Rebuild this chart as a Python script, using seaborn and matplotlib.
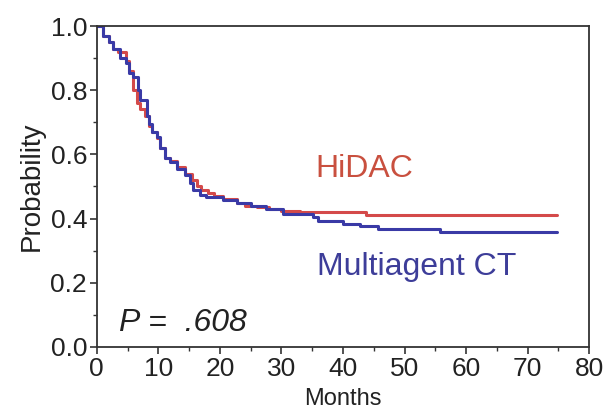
import numpy as np
import pandas as pd
import matplotlib
matplotlib.use("Agg")
import matplotlib.pyplot as plt
import seaborn as sns
from matplotlib.ticker import MultipleLocator

# Kaplan-Meier estimates (months, probability)
hidac_months = [0, 1.0, 2.0, 2.7, 3.5, 4.8, 5.3, 5.8, 6.5, 7.0, 7.8, 8.4, 8.9,
                9.7, 10.2, 11.1, 11.9, 13.0, 14.3, 15.4, 16.2, 17.0, 18.0, 19.0,
                20.5, 22.7, 24.0, 26.0, 28.0, 30.0, 33.0, 43.8, 74.7]
hidac_prob = [1.0, 0.97, 0.95, 0.93, 0.92, 0.89, 0.86, 0.80, 0.76, 0.74, 0.72,
              0.69, 0.67, 0.65, 0.62, 0.59, 0.58, 0.56, 0.54, 0.52, 0.50, 0.49,
              0.48, 0.47, 0.46, 0.45, 0.44, 0.435, 0.43, 0.425, 0.42, 0.41, 0.41]

multi_months = [0, 1.0, 2.0, 2.7, 3.8, 4.8, 5.2, 5.8, 6.7, 7.0, 8.1, 8.4, 8.9,
                9.7, 10.2, 11.1, 11.9, 13.0, 14.3, 15.1, 15.7, 16.8, 17.8, 20.5,
                22.7, 25.0, 27.5, 30.3, 35.1, 36.0, 40.0, 42.8, 45.7, 55.8, 74.7]
multi_prob = [1.0, 0.97, 0.95, 0.93, 0.90, 0.885, 0.855, 0.84, 0.80, 0.77, 0.72,
              0.695, 0.67, 0.653, 0.62, 0.59, 0.575, 0.555, 0.535, 0.51, 0.49,
              0.475, 0.467, 0.457, 0.45, 0.44, 0.43, 0.415, 0.405, 0.392, 0.382,
              0.376, 0.369, 0.357, 0.357]

colors = {"HiDAC": "#d44a4a", "Multiagent CT": "#3a3aa6"}
text_colors = {"HiDAC": "#c9503f", "Multiagent CT": "#3d3d99"}

df = pd.concat([
    pd.DataFrame({"Months": hidac_months, "Probability": hidac_prob, "arm": "HiDAC"}),
    pd.DataFrame({"Months": multi_months, "Probability": multi_prob, "arm": "Multiagent CT"}),
])

sns.set_style("ticks")
plt.rcParams["font.family"] = ["Liberation Sans", "DejaVu Sans"]

fig, ax = plt.subplots(figsize=(6.05, 4.2), dpi=100)
fig.subplots_adjust(left=0.160, right=0.974, top=0.938, bottom=0.174)

sns.lineplot(data=df, x="Months", y="Probability", hue="arm", palette=colors,
             drawstyle="steps-post", linewidth=2.2, estimator=None, sort=False,
             legend=False, ax=ax)

ax.set_xlim(0, 80)
ax.set_ylim(0, 1.0)
ax.xaxis.set_major_locator(MultipleLocator(10))
ax.xaxis.set_minor_locator(MultipleLocator(5))
ax.yaxis.set_major_locator(MultipleLocator(0.2))
ax.yaxis.set_minor_locator(MultipleLocator(0.1))
ax.yaxis.set_major_formatter(matplotlib.ticker.FormatStrFormatter("%.1f"))

for s in ax.spines.values():
    s.set_linewidth(1.3)
    s.set_color("#333333")
ax.tick_params(which="major", length=5, width=1.2, labelsize=19, colors="#333333",
               labelcolor="#222222", pad=2)
ax.tick_params(which="minor", length=3, width=1.0, colors="#333333")

ax.set_xlabel("Months", fontsize=17, color="#222222", labelpad=5)
ax.set_ylabel("Probability", fontsize=20, color="#222222", labelpad=4)

ax.text(43.4, 0.556, "HiDAC", color=text_colors["HiDAC"], fontsize=23,
        ha="center", va="center")
ax.text(52.0, 0.248, "Multiagent CT", color=text_colors["Multiagent CT"], fontsize=23,
        ha="center", va="center")
ax.text(3.6, 0.075, "P =  .608", fontsize=23, fontstyle="italic", color="#222222",
        ha="left", va="center")

fig.savefig("out.png", dpi=100)
